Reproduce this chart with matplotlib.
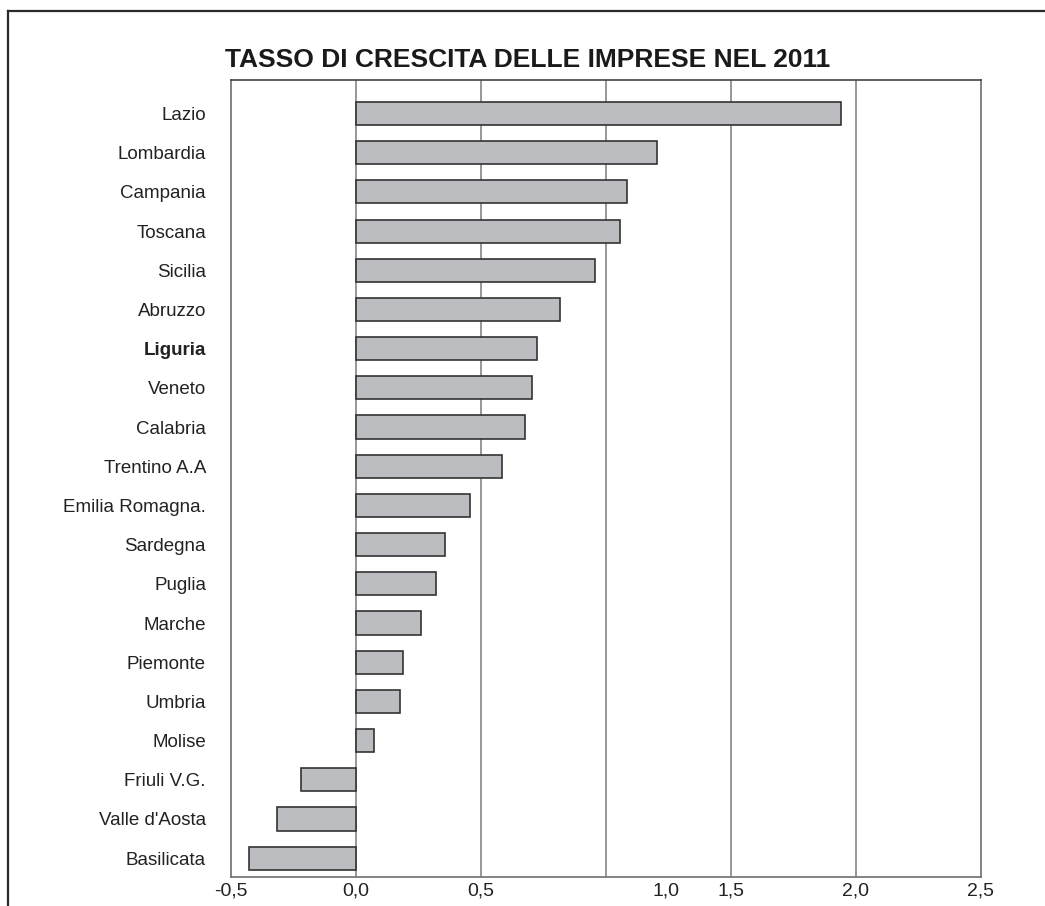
import matplotlib
matplotlib.use("Agg")
import matplotlib.pyplot as plt
from matplotlib.lines import Line2D

regions = ["Lazio", "Lombardia", "Campania", "Toscana", "Sicilia", "Abruzzo",
           "Liguria", "Veneto", "Calabria", "Trentino A.A", "Emilia Romagna.",
           "Sardegna", "Puglia", "Marche", "Piemonte", "Umbria", "Molise",
           "Friuli V.G.", "Valle d'Aosta", "Basilicata"]
values = [1.94, 1.205, 1.085, 1.055, 0.958, 0.818, 0.726, 0.706, 0.678, 0.586,
          0.458, 0.358, 0.322, 0.262, 0.19, 0.178, 0.074, -0.22, -0.315, -0.427]
grid_values = [0.0, 0.5, 1.0, 1.5, 2.0]
xtick_pos = [-0.5, 0.0, 0.5, 1.24, 1.5, 2.0, 2.5]
xtick_labels = ["-0,5", "0,0", "0,5", "1,0", "1,5", "2,0", "2,5"]
title = "TASSO DI CRESCITA DELLE IMPRESE NEL 2011"

plt.rcParams['font.family'] = ['Liberation Sans', 'DejaVu Sans']

fig = plt.figure(figsize=(10.45, 9.06), dpi=100)
ax = fig.add_axes([231/1045, 29/906, (980.7-231)/1045, (877-80)/906])

ypos = list(range(len(regions)))
ax.barh(ypos, values, height=0.59, color="#bcbdc1", edgecolor="#333333",
        linewidth=1.2, zorder=3)
ax.vlines(grid_values, -2, 22, colors="#7a7a7a", linewidth=1.1, zorder=1)

ax.set_xlim(-0.5, 2.5)
ax.set_ylim(19.48, -0.855)
ax.set_xticks(xtick_pos)
ax.set_xticklabels(xtick_labels, fontsize=14)
ax.set_yticks(ypos)
ax.set_yticklabels(regions, fontsize=13.5)
for lbl in ax.get_yticklabels():
    if lbl.get_text() == "Liguria":
        lbl.set_fontweight("bold")
ax.tick_params(axis="both", length=0, colors="#222222")
ax.tick_params(axis="y", pad=18)
ax.tick_params(axis="x", pad=4)
for s in ax.spines.values():
    s.set_color("#6e6e6e")
    s.set_linewidth(1.2)
ax.spines["top"].set_color("#444444")

fig.text(528/1045, 1 - 60/906, title, ha="center", va="center",
         fontsize=19, fontweight="bold", color="#1a1a1a")

# outer frame (left and top visible)
fig.add_artist(Line2D([8/1045, 8/1045], [0, 1 - 10.5/906], transform=fig.transFigure,
                      color="#2a2a2a", linewidth=1.6))
fig.add_artist(Line2D([8/1045, 1], [1 - 10.5/906, 1 - 10.5/906], transform=fig.transFigure,
                      color="#2a2a2a", linewidth=1.6))

fig.savefig("out.png", dpi=100, facecolor="white")
